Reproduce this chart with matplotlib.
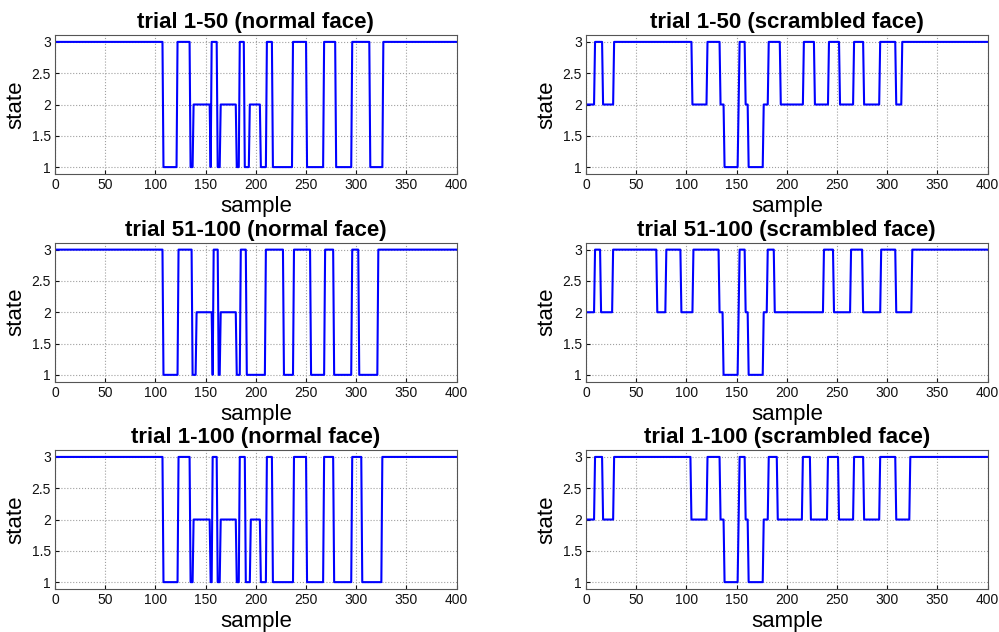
'''
Hidden state sequences per sample, normal vs scrambled faces
'''

import numpy as np
import matplotlib.pyplot as plt

plt.rcParams['font.family'] = ['Liberation Sans', 'DejaVu Sans']

# Each sequence is stored as runs: the state and the last sample of that run
norm_1_50_states = [3, 1, 3, 1, 2, 1, 3, 1, 2, 1, 3, 1, 2, 1, 3, 1, 3, 1, 3, 1, 3, 1, 3]
norm_1_50_ends = [107, 121, 134, 137, 154, 155, 161, 164, 180, 183, 188, 193, 204, 210,
                  216, 236, 250, 267, 279, 295, 313, 326, 400]

norm_51_100_states = [3, 1, 3, 1, 2, 1, 3, 1, 2, 1, 3, 1, 3, 1, 3, 1, 3, 1, 3, 1, 3]
norm_51_100_ends = [107, 122, 136, 140, 156, 157, 162, 164, 180, 184, 190, 209, 227, 237,
                    254, 268, 277, 295, 302, 321, 400]

norm_1_100_states = [3, 1, 3, 1, 2, 1, 3, 1, 2, 1, 3, 1, 2, 1, 3, 1, 3, 1, 3, 1, 3, 1, 3]
norm_1_100_ends = [107, 122, 134, 137, 154, 156, 161, 164, 180, 183, 189, 194, 204, 210,
                   216, 237, 250, 267, 277, 295, 305, 325, 400]

scr_1_50_states = [2, 3, 2, 3, 2, 3, 2, 1, 2, 3, 2, 1, 2, 3, 2, 3, 2, 3, 2, 3, 2, 3, 2, 3]
scr_1_50_ends = [8, 16, 27, 105, 120, 133, 137, 151, 152, 158, 161, 176, 181, 193,
                 216, 227, 241, 252, 266, 276, 292, 308, 314, 400]

scr_51_100_states = [2, 3, 2, 3, 2, 3, 2, 3, 2, 1, 2, 3, 2, 1, 2, 3, 2, 3, 2, 3, 2, 3, 2, 3]
scr_51_100_ends = [8, 14, 26, 70, 79, 94, 106, 132, 136, 151, 152, 158, 161, 176,
                   180, 187, 236, 246, 263, 275, 293, 308, 324, 400]

scr_1_100_states = [2, 3, 2, 3, 2, 3, 2, 1, 2, 3, 2, 1, 2, 3, 2, 3, 2, 3, 2, 3, 2, 3, 2, 3]
scr_1_100_ends = [8, 16, 27, 104, 120, 133, 137, 151, 152, 158, 161, 176, 181, 190,
                  215, 223, 240, 251, 266, 276, 292, 308, 322, 400]

titles = ['trial 1-50 (normal face)', 'trial 1-50 (scrambled face)',
          'trial 51-100 (normal face)', 'trial 51-100 (scrambled face)',
          'trial 1-100 (normal face)', 'trial 1-100 (scrambled face)']

panels = [(norm_1_50_states, norm_1_50_ends), (scr_1_50_states, scr_1_50_ends),
          (norm_51_100_states, norm_51_100_ends), (scr_51_100_states, scr_51_100_ends),
          (norm_1_100_states, norm_1_100_ends), (scr_1_100_states, scr_1_100_ends)]

fig = plt.figure(figsize=(9.99, 6.32), dpi=100)

# axes boxes in figure fractions (left, bottom, width, height)
lefts = [0.0551, 0.5866]
bottoms = [0.7247, 0.396, 0.068]
width = 0.402
height = 0.2199

for k, (states, ends) in enumerate(panels):
    row, col = k // 2, k % 2
    ax = fig.add_axes([lefts[col], bottoms[row], width, height])

    # expand the runs into one value per sample
    lengths = np.diff([0] + ends)
    y = np.repeat(states, lengths)
    x = np.arange(1, len(y) + 1)

    ax.plot(x, y, color='#0000ff', lw=1.5)
    ax.set_xlim(0, 400)
    ax.set_ylim(0.89, 3.11)
    ax.set_xticks(np.arange(0, 401, 50))
    ax.set_yticks([1, 1.5, 2, 2.5, 3])
    ax.set_yticklabels(['1', '1.5', '2', '2.5', '3'])
    ax.grid(True, linestyle=':', color='#a0a0a0', lw=0.8)
    ax.tick_params(direction='in', length=3, labelsize=10, pad=3,
                   colors='#111111')
    for s in ax.spines.values():
        s.set_color('#555555')
        s.set_linewidth(0.8)
    ax.set_title(titles[k], fontsize=16, fontweight='bold', pad=5)
    ax.set_xlabel('sample', fontsize=16, labelpad=3)
    ax.set_ylabel('state', fontsize=16, labelpad=4)

plt.savefig('out.png', dpi=100)
